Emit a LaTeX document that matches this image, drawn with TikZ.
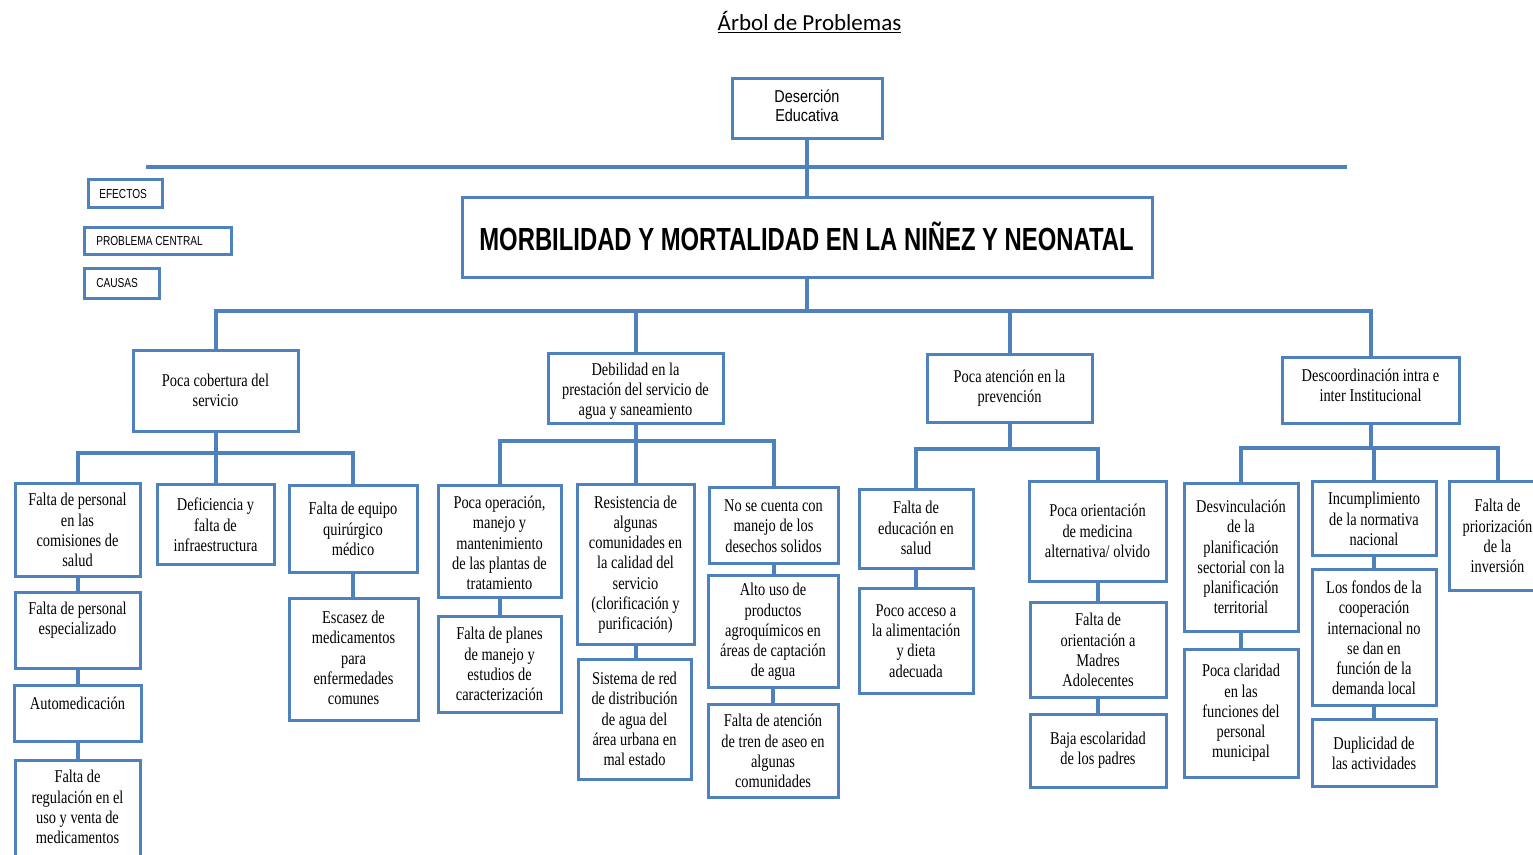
\documentclass[tikz,border=0pt]{standalone}
\usepackage{fontspec}
\usetikzlibrary{fit}
\newfontfamily\srf[FakeStretch=0.8]{Liberation Serif}
\newfontfamily\nsans[FakeStretch=0.84]{Liberation Sans}
\newfontfamily\lsans[FakeStretch=0.78]{Liberation Sans}
\newfontfamily\csansb[FakeStretch=0.745]{Liberation Sans Bold}
\newfontfamily\ttl{Carlito}
\definecolor{boxblue}{RGB}{79,129,189}
\tikzset{
 box/.style={draw=boxblue, line width=2.25pt, fill=white, inner sep=0pt},
 conn/.style={draw=boxblue, line width=3pt},
 txt/.style={font=\srf\fontsize{13.5}{15.2}\selectfont, align=center, inner sep=0pt, text=black},
 lab/.style={font=\lsans\fontsize{9.75}{11}\selectfont, inner sep=0pt, anchor=west, text=black},
}
\newcommand\bx[7]{%
 \node[box, fit={(#2,#3)(#4,#5)}] (#1) {};
 \node[txt] (#1-t) at ({(#2+#4)/2},#6) {#7};}
\begin{document}
\begin{tikzpicture}[x=0.75pt,y=-0.75pt]
\useasboundingbox (0,0) rectangle (1533,854);
\fill[white] (0,0) rectangle (1533,854);
\begin{scope}
\clip (0,0) rectangle (1533,854);
% title
\node[font=\ttl\fontsize{17.25}{20}\selectfont, anchor=base, inner sep=0pt] (title) at (809.5,30.7) {\underline{Árbol de Problemas}};
% effect
\node[box, fit={(732,78)(882,138)}] (des) {};
\node[font=\nsans\fontsize{12.9}{14.5}\selectfont, align=center, inner sep=0pt] (des-t) at (807,105.5) {Deserción\\Educativa};
\coordinate (eL) at (146,167);
\coordinate (eR) at (1347,167);
% legend
\node[box, fit={(88,179)(162,207)}] (l1) {};
\node[lab] (l1-t) at (99,194) {EFECTOS};
\node[box, fit={(84,227)(231,254)}] (l2) {};
\node[lab] (l2-t) at (96,241) {PROBLEMA CENTRAL};
\node[box, fit={(84,268)(159,298)}] (l3) {};
\node[lab] (l3-t) at (96,283) {CAUSAS};
% central
\node[box, fit={(462,197)(1152,277)}] (cen) {};
\node[font=\csansb\fontsize{24}{28}\selectfont, inner sep=0pt] (cen-t) at (806.5,236) {MORBILIDAD Y MORTALIDAD EN LA NIÑEZ Y NEONATAL};
% level 1
\bx{pc}{133}{350}{298}{431}{390}{Poca cobertura del\\servicio}
\bx{db}{548}{353}{723}{423}{391}{Debilidad en la\\prestación del servicio de\\agua y saneamiento}
\bx{pa}{927}{354}{1092}{422}{388}{Poca atención en la\\prevención}
\bx{dc}{1282}{357}{1459}{423}{385}{Descoordinación intra e\\inter Institucional}
% group 1
\bx{fp1}{15}{483}{140}{576}{530}{Falta de personal\\en las\\comisiones de\\salud}
\bx{df}{157}{484}{274}{564}{525}{Deficiencia y\\falta de\\infraestructura}
\bx{fe}{289}{485}{417}{572}{529}{Falta de equipo\\quirúrgico\\médico}
\bx{fp2}{15}{592}{140}{668}{620.5}{Falta de personal\\especializado}
\bx{au}{14}{685}{141}{741}{703}{Automedicación}
\bx{fr}{15}{760}{140}{864}{807}{Falta de\\regulación en el\\uso y venta de\\medicamentos}
\bx{es}{289}{598}{418}{720}{658}{Escasez de\\medicamentos\\para\\enfermedades\\comunes}
% group 2
\bx{po}{438}{485}{561}{597}{543}{Poca operación,\\manejo y\\mantenimiento\\de las plantas de\\tratamiento}
\bx{fpl}{438}{616}{561}{712}{664}{Falta de planes\\de manejo y\\estudios de\\caracterización}
\bx{re}{577}{484}{694}{644}{564.5}{Resistencia de\\algunas\\comunidades en\\la calidad del\\servicio\\(clorificación y\\purificación)}
\bx{sr}{578}{659}{691}{779}{719}{Sistema de red\\de distribución\\de agua del\\área urbana en\\mal estado}
\bx{nc}{709}{487}{838}{563}{526}{No se cuenta con\\manejo de los\\desechos solidos}
\bx{ap}{708}{575}{838}{687}{632}{Alto uso de\\productos\\agroquímicos en\\áreas de captación\\de agua}
\bx{ft}{708}{704}{838}{797}{751}{Falta de atención\\de tren de aseo en\\algunas\\comunidades}
% group 3
\bx{fed}{859}{489}{973}{568}{528}{Falta de\\educación en\\salud}
\bx{pac}{859}{588}{973}{693}{641}{Poco acceso a\\la alimentación\\y dieta\\adecuada}
\bx{pom}{1029}{481}{1166}{581}{531}{Poca orientación\\de medicina\\alternativa/ olvido}
\bx{fom}{1030}{602}{1166}{697}{650}{Falta de\\orientación a\\Madres\\Adolecentes}
\bx{be}{1030}{714}{1166}{787}{750.5}{Baja escolaridad\\de los padres}
% group 4
\bx{dv}{1184}{483}{1298}{631}{557}{Desvinculación\\de la\\planificación\\sectorial con la\\planificación\\territorial}
\bx{pcl}{1184}{649}{1298}{777}{713}{Poca claridad\\en las\\funciones del\\personal\\municipal}
\bx{inc}{1312}{481}{1436}{555}{519}{Incumplimiento\\de la normativa\\nacional}
\bx{lf}{1312}{569}{1436}{705}{638}{Los fondos de la\\cooperación\\internacional no\\se dan en\\función de la\\demanda local}
\bx{du}{1312}{719}{1436}{786}{753}{Duplicidad de\\las actividades}
\bx{fpr}{1449}{481}{1546}{590}{536}{Falta de\\priorización\\de la\\inversión}
% connectors top
\draw[conn] (eL) -- (eR);
\draw[conn] (des.south) -- (cen.north);
\coordinate (L1) at (807,311);
\draw[conn] (cen.south) -- (L1);
\draw[conn] (pc.north) |- (L1) -| (dc.north);
\draw[conn] (db.north) -- (db.north |- L1);
\draw[conn] (pa.north) -- (pa.north |- L1);
% group 1
\coordinate (G1) at (215.5,453);
\draw[conn] (pc.south) -- (G1);
\draw[conn] (fp1.north) |- (G1) -| (fe.north);
\draw[conn] (df.north) -- (df.north |- G1);
\draw[conn] (fp1.south) -- (fp1.south |- fp2.north);
\draw[conn] (fp2.south) -- (fp2.south |- au.north);
\draw[conn] (au.south) -- (au.south |- fr.north);
\draw[conn] (fe.south) -- (fe.south |- es.north);
% group 2
\coordinate (G2) at (635.5,441);
\draw[conn] (db.south) -- (G2);
\draw[conn] (po.north) |- (G2) -| (nc.north);
\draw[conn] (re.north) -- (re.north |- G2);
\draw[conn] (po.south) -- (po.south |- fpl.north);
\draw[conn] (re.south) -- (re.south |- sr.north);
\draw[conn] (nc.south) -- (nc.south |- ap.north);
\draw[conn] (ap.south) -- (ap.south |- ft.north);
% group 3
\coordinate (G3) at (1009.5,449);
\draw[conn] (pa.south) -- (G3);
\draw[conn] (fed.north) |- (G3) -| (pom.north);
\draw[conn] (fed.south) -- (fed.south |- pac.north);
\draw[conn] (pom.south) -- (pom.south |- fom.north);
\draw[conn] (fom.south) -- (fom.south |- be.north);
% group 4
\coordinate (G4) at (1370.5,448);
\draw[conn] (dc.south) -- (G4);
\draw[conn] (dv.north) |- (G4) -| (fpr.north);
\draw[conn] (inc.north) -- (inc.north |- G4);
\draw[conn] (dv.south) -- (dv.south |- pcl.north);
\draw[conn] (inc.south) -- (inc.south |- lf.north);
\draw[conn] (lf.south) -- (lf.south |- du.north);
\end{scope}
\end{tikzpicture}
\end{document}
